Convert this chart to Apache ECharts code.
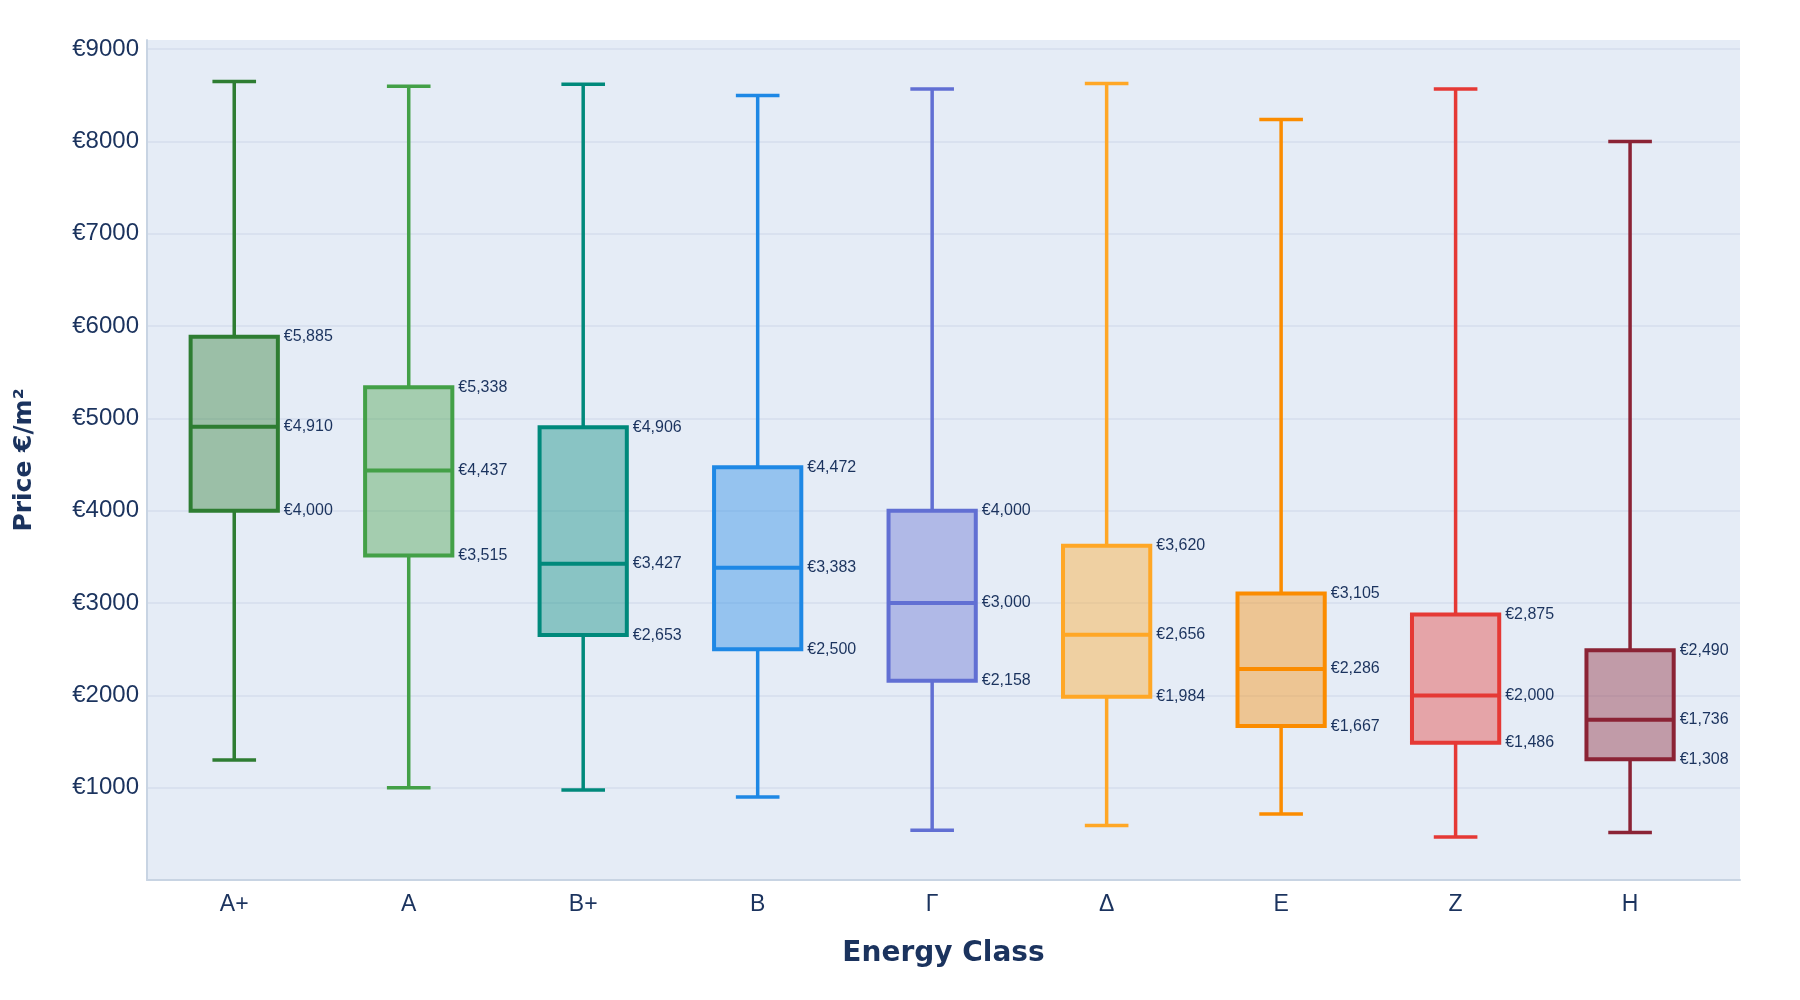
<!DOCTYPE html>
<html>
<head>
<meta charset="utf-8">
<script src="https://cdn.jsdelivr.net/npm/echarts@6/dist/echarts.min.js"></script>
<style>
    html, body { margin: 0; padding: 0; background: #fff; }
    #chart { width: 1800px; height: 1000px; }
</style>
</head>
<body>
<div id="chart"></div>
<script type="text/javascript">
    // energy classes and box statistics (€/m²)
    var classes = ['A+', 'A', 'B+', 'B', 'Γ', 'Δ', 'E', 'Z', 'H'];
    var whiskerLow = [1300, 1000, 975, 900, 540, 590, 715, 465, 515];
    var q1 = [4000, 3515, 2653, 2500, 2158, 1984, 1667, 1486, 1308];
    var median = [4910, 4437, 3427, 3383, 3000, 2656, 2286, 2000, 1736];
    var q3 = [5885, 5338, 4906, 4472, 4000, 3620, 3105, 2875, 2490];
    var whiskerHigh = [8650, 8600, 8620, 8500, 8570, 8630, 8240, 8570, 8000];
    var colors = ['#2E7D32', '#43A047', '#00897B', '#1E88E5', '#616FD3', '#FFA726', '#FB8C00', '#E53935', '#8B2335'];

    var textColor = '#1b335e';
    var labelFont = '"Liberation Sans", Arial, sans-serif';

    var boxData = [];
    for (var i = 0; i < classes.length; i++) {
        boxData.push([i, whiskerLow[i], q1[i], median[i], q3[i], whiskerHigh[i]]);
    }

    function euro(v) {
        return '€' + Math.round(v).toLocaleString('en-US');
    }

    function renderBox(params, api) {
        var idx = api.value(0);
        var color = colors[idx];
        var band = api.size([1, 0])[0];
        var half = band * 0.25;
        var capHalf = band * 0.125;
        var pLow = api.coord([idx, api.value(1)]);
        var pQ1 = api.coord([idx, api.value(2)]);
        var pMed = api.coord([idx, api.value(3)]);
        var pQ3 = api.coord([idx, api.value(4)]);
        var pHigh = api.coord([idx, api.value(5)]);
        var cx = pMed[0];
        var lineStyle = { stroke: color, lineWidth: 3.5 };

        var children = [
            { type: 'line', shape: { x1: cx, y1: pQ3[1], x2: cx, y2: pHigh[1] }, style: lineStyle },
            { type: 'line', shape: { x1: cx, y1: pQ1[1], x2: cx, y2: pLow[1] }, style: lineStyle },
            { type: 'line', shape: { x1: cx - capHalf, y1: pHigh[1], x2: cx + capHalf, y2: pHigh[1] }, style: lineStyle },
            { type: 'line', shape: { x1: cx - capHalf, y1: pLow[1], x2: cx + capHalf, y2: pLow[1] }, style: lineStyle },
            {
                type: 'rect',
                shape: { x: cx - half, y: pQ3[1], width: half * 2, height: pQ1[1] - pQ3[1] },
                style: { fill: echarts.color.modifyAlpha(color, 0.4), stroke: color, lineWidth: 4 }
            },
            { type: 'line', shape: { x1: cx - half, y1: pMed[1], x2: cx + half, y2: pMed[1] }, style: { stroke: color, lineWidth: 4 } }
        ];

        [[pQ3, api.value(4)], [pMed, api.value(3)], [pQ1, api.value(2)]].forEach(function (p) {
            children.push({
                type: 'text',
                style: {
                    text: euro(p[1]),
                    x: cx + half + 6,
                    y: p[0][1],
                    fill: textColor,
                    fontSize: 16,
                    fontFamily: labelFont,
                    verticalAlign: 'middle',
                    align: 'left'
                }
            });
        });

        return { type: 'group', children: children };
    }

    var chart = echarts.init(document.getElementById('chart'));
    var options = {
        animation: false,
        grid: {
            left: 147,
            right: 60,
            top: 40,
            bottom: 120,
            show: true,
            backgroundColor: '#E5ECF6',
            borderWidth: 0
        },
        xAxis: {
            type: 'value',
            min: -0.5,
            max: 8.63,
            name: 'Energy Class',
            nameLocation: 'middle',
            nameGap: 60,
            nameTextStyle: {
                color: textColor,
                fontSize: 28,
                fontWeight: 'bold',
                fontFamily: '"DejaVu Sans", sans-serif'
            },
            axisLine: { show: true, onZero: false, lineStyle: { color: '#c8d4e3', width: 2 } },
            axisTick: { show: false },
            splitLine: { show: false },
            axisLabel: {
                customValues: [0, 1, 2, 3, 4, 5, 6, 7, 8],
                formatter: function (v) { return classes[v]; },
                color: textColor,
                fontSize: 23,
                fontFamily: labelFont,
                margin: 13
            }
        },
        yAxis: {
            type: 'value',
            min: 0,
            max: 9100,
            interval: 1000,
            name: 'Price €/m²',
            nameLocation: 'middle',
            nameRotate: 90,
            nameGap: 110,
            nameTextStyle: {
                color: textColor,
                fontSize: 25,
                fontWeight: 'bold',
                fontFamily: '"DejaVu Sans", sans-serif'
            },
            axisLine: { show: true, onZero: false, lineStyle: { color: '#c8d4e3', width: 2 } },
            axisTick: { show: false },
            splitLine: {
                show: true,
                showMinLine: false,
                showMaxLine: false,
                lineStyle: { color: '#d5deec', width: 1.5 }
            },
            axisLabel: {
                showMaxLabel: false,
                formatter: function (v) { return v === 0 || v > 9000 ? '' : '€' + v; },
                color: textColor,
                fontSize: 24,
                fontFamily: labelFont,
                margin: 8
            }
        },
        series: [{
            type: 'custom',
            renderItem: renderBox,
            encode: { x: 0, y: [1, 2, 3, 4, 5] },
            data: boxData
        }]
    };
    chart.setOption(options);
</script>
</body>
</html>
